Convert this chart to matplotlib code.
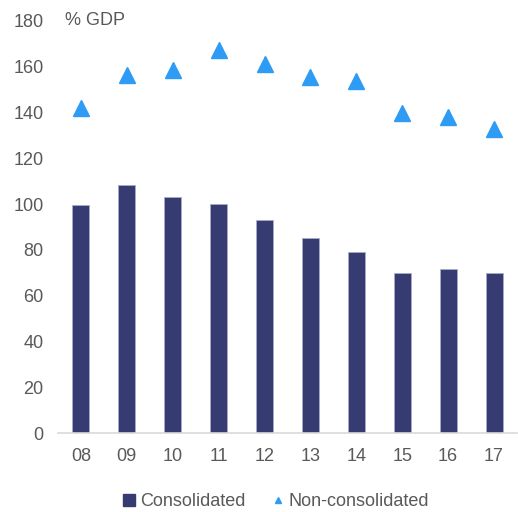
import matplotlib
matplotlib.use("Agg")
import matplotlib.pyplot as plt
from matplotlib.lines import Line2D
import numpy as np

plt.rcParams['font.family'] = ['Liberation Sans', 'DejaVu Sans']

years = ['08', '09', '10', '11', '12', '13', '14', '15', '16', '17']
consolidated = [99.6, 108.3, 103.0, 100.0, 93.0, 85.3, 79.2, 69.8, 71.9, 69.8]
non_consolidated = [142.2, 156.4, 158.6, 167.3, 161.0, 155.5, 154.0, 139.8, 138.0, 132.8]

text_col = '#595959'
bar_col = '#363c72'
tri_col = '#2e9bf5'

fig = plt.figure(figsize=(5.18, 5.12), dpi=100)
ax = fig.add_axes([0.112, 0.154, 0.886, 0.805])

x = np.arange(len(years))
ax.bar(x, consolidated, width=0.37, color=bar_col, edgecolor='#a9acc8', linewidth=0.6, zorder=2)
ax.plot(x, non_consolidated, linestyle='none', marker='^', markersize=12,
        color=tri_col, zorder=3)

ax.set_xlim(-0.5, len(years) - 0.5)
ax.set_ylim(0, 180)
ax.set_yticks(range(0, 181, 20))
ax.set_xticks(x)
ax.set_xticklabels(years)
ax.tick_params(axis='both', length=0, labelsize=13, labelcolor=text_col, pad=10.5)

for s in ['left', 'right', 'top']:
    ax.spines[s].set_visible(False)
ax.spines['bottom'].set_color('#d9d9d9')
ax.spines['bottom'].set_linewidth(1.2)

ax.text(0.016, 1.0, '% GDP', transform=ax.transAxes, fontsize=13,
        color=text_col, ha='left', va='center')

handles = [
    Line2D([], [], linestyle='none', marker='s', markersize=8, color=bar_col),
    Line2D([], [], linestyle='none', marker='^', markersize=5, color=tri_col),
]
fig.legend(handles, ['Consolidated', 'Non-consolidated'], loc='center',
           bbox_to_anchor=(0.53, 0.02), ncol=2, frameon=False, fontsize=13,
           labelcolor=text_col, handletextpad=0.1, columnspacing=1.3, handlelength=1.0,
           borderpad=0.1)

plt.savefig("out.png", dpi=100)
